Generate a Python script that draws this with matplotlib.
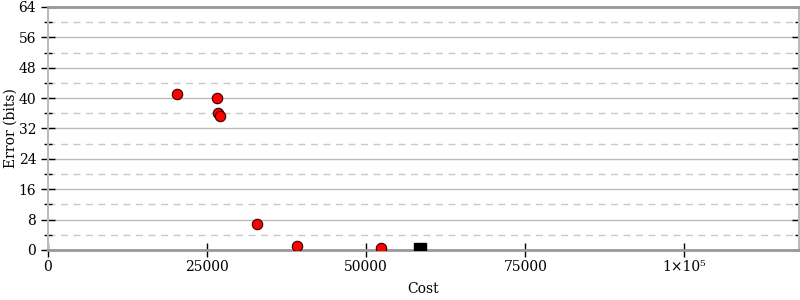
import matplotlib
matplotlib.use("Agg")
import matplotlib.pyplot as plt
from matplotlib.ticker import MultipleLocator, FixedLocator

plt.rcParams['font.family'] = ['DejaVu Serif']
plt.rcParams['font.size'] = 10

# points
cost = [20300, 26600, 26750, 27050, 32850, 39150, 52350]
error = [41.1, 40.0, 36.1, 35.3, 6.85, 1.05, 0.6]

# the black square marker
sq_cost = [58500]
sq_error = [0.3]

xticks = [0, 25000, 50000, 75000, 100000]
xticklabels = ['0', '25000', '50000', '75000', '1×10⁵']

fig = plt.figure(figsize=(8, 3), dpi=100)
ax = fig.add_axes([0.06, 0.1667, 0.93875, 0.81])

ax.set_xlim(0, 118000)
ax.set_ylim(0, 64)

ax.yaxis.set_major_locator(MultipleLocator(8))
ax.yaxis.set_minor_locator(MultipleLocator(4))
ax.grid(axis='y', which='major', color='#bbbbbb', linestyle='-', linewidth=1)
ax.grid(axis='y', which='minor', color='#c8c8c8', linestyle=(0, (5, 4)), linewidth=1)
ax.set_axisbelow(True)

ax.xaxis.set_major_locator(FixedLocator(xticks))
ax.set_xticklabels(xticklabels)

ax.plot(cost, error, 'o', color='red', markeredgecolor='#330000',
        markeredgewidth=0.8, markersize=7.5, clip_on=True, zorder=3)
ax.plot(sq_cost, sq_error, 's', color='black', markersize=8.5, zorder=3)

for side in ['bottom', 'top']:
    ax.spines[side].set_color('#999999')
    ax.spines[side].set_linewidth(2)
for side in ['left', 'right']:
    ax.spines[side].set_color('#bbbbbb')
    ax.spines[side].set_linewidth(1.5)

ax.tick_params(axis='y', which='major', direction='inout', length=10, width=1,
               color='black', left=True, right=True, labelsize=10)
ax.tick_params(axis='y', which='minor', direction='inout', length=6, width=1,
               color='black', left=True, right=True)
ax.tick_params(axis='x', which='major', direction='inout', length=10, width=1,
               color='black', bottom=True, top=False, labelsize=10, pad=2)

ax.set_xlabel('Cost', labelpad=6)
ax.set_ylabel('Error (bits)', labelpad=1)

fig.savefig('out.png', dpi=100)
